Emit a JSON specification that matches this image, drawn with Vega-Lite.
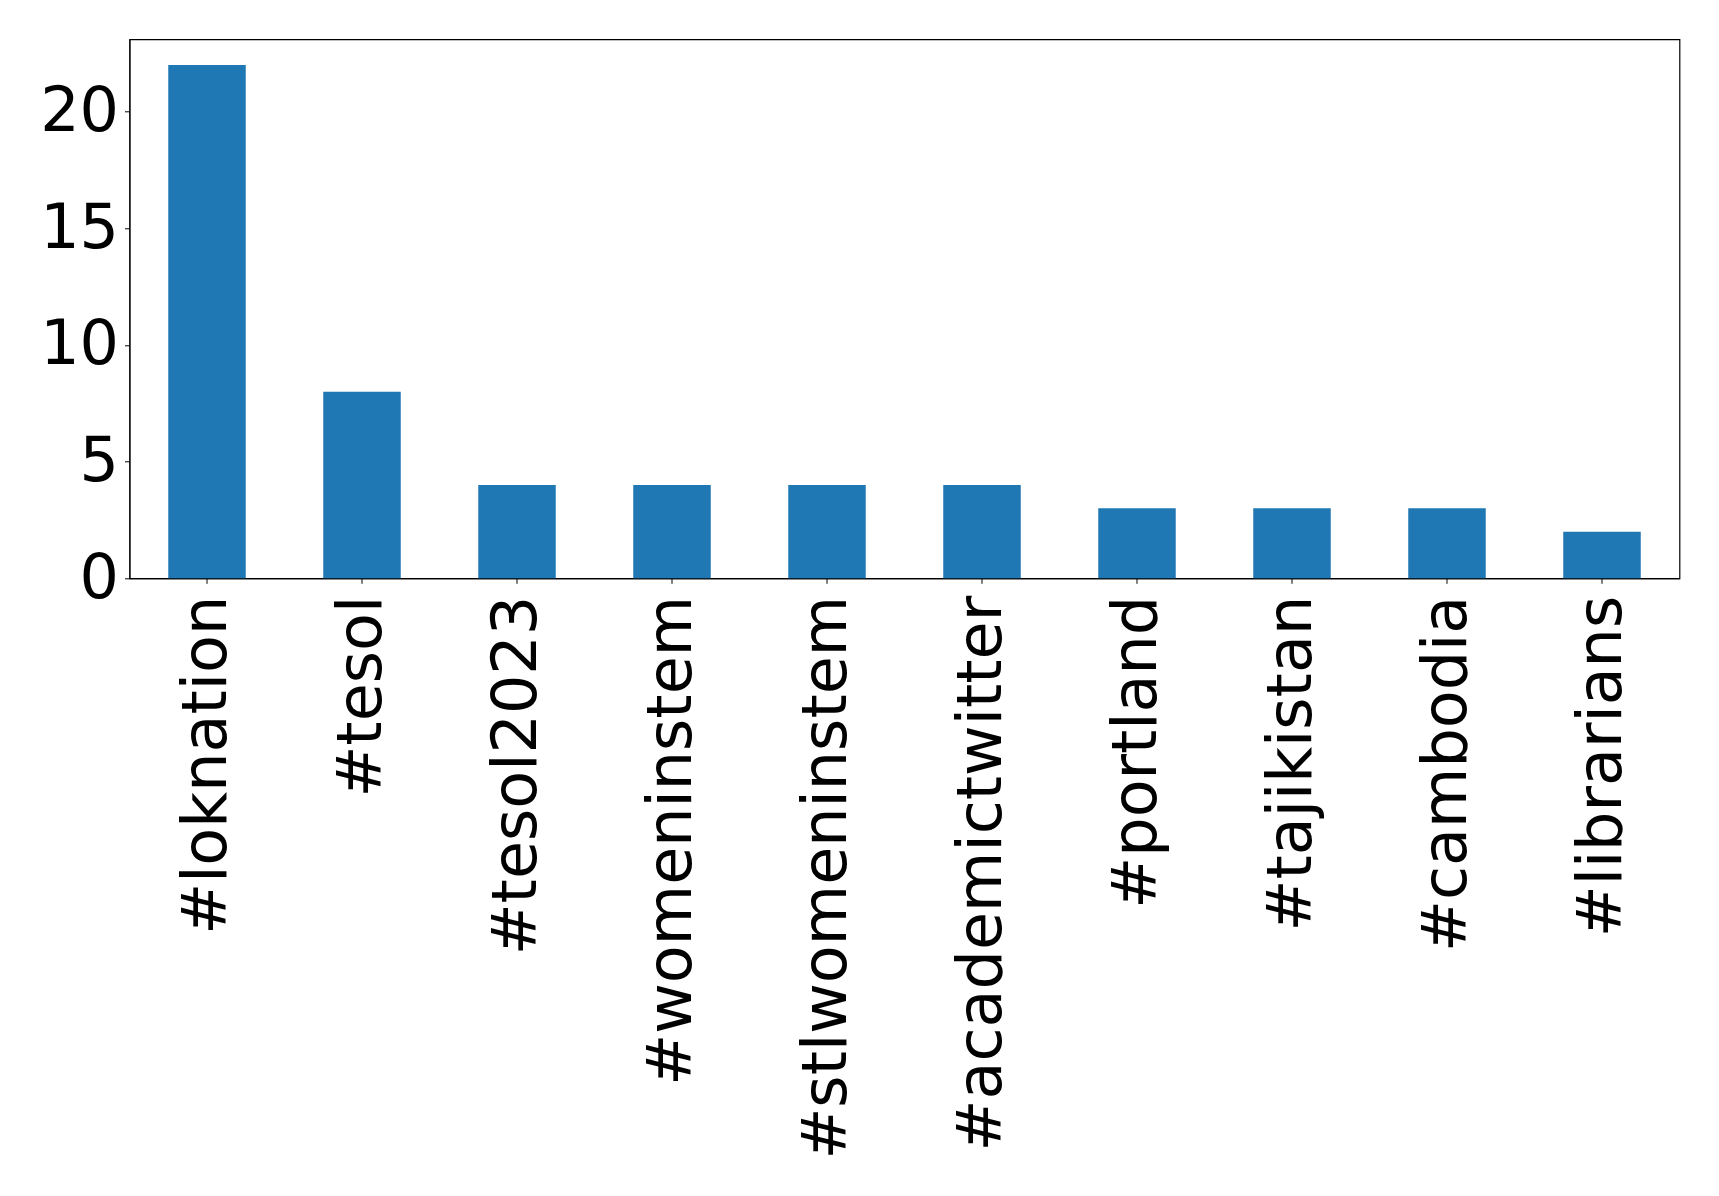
{
  "$schema": "https://vega.github.io/schema/vega-lite/v6.json",
  "width": 1550,
  "height": 539,
  "autosize": "none",
  "padding": {"left": 129.5, "top": 39.3, "right": 40, "bottom": 618},
  "background": "white",
  "data": {
    "values": [
      {"tag": "#loknation", "count": 22},
      {"tag": "#tesol", "count": 8},
      {"tag": "#tesol2023", "count": 4},
      {"tag": "#womeninstem", "count": 4},
      {"tag": "#stlwomeninstem", "count": 4},
      {"tag": "#academictwitter", "count": 4},
      {"tag": "#portland", "count": 3},
      {"tag": "#tajikistan", "count": 3},
      {"tag": "#cambodia", "count": 3},
      {"tag": "#librarians", "count": 2}
    ]
  },
  "mark": {"type": "bar", "color": "#1f77b4"},
  "encoding": {
    "x": {
      "field": "tag",
      "type": "nominal",
      "sort": null,
      "scale": {"paddingInner": 0.5, "paddingOuter": 0.25},
      "axis": {
        "title": null,
        "labelAngle": -90,
        "labelFont": "DejaVu Sans",
        "labelFontSize": 62,
        "labelColor": "black",
        "labelPadding": 12,
        "tickColor": "black",
        "tickSize": 5,
        "domainColor": "black",
        "labelLimit": 1000
      }
    },
    "y": {
      "field": "count",
      "type": "quantitative",
      "scale": {"domain": [0, 23.1], "nice": false},
      "axis": {
        "title": null,
        "values": [0, 5, 10, 15, 20],
        "grid": false,
        "labelFont": "DejaVu Sans",
        "labelFontSize": 62,
        "labelColor": "black",
        "labelPadding": 6,
        "tickColor": "black",
        "tickSize": 5,
        "domainColor": "black"
      }
    }
  },
  "config": {
    "view": {"stroke": "black", "strokeWidth": 1.2}
  }
}
